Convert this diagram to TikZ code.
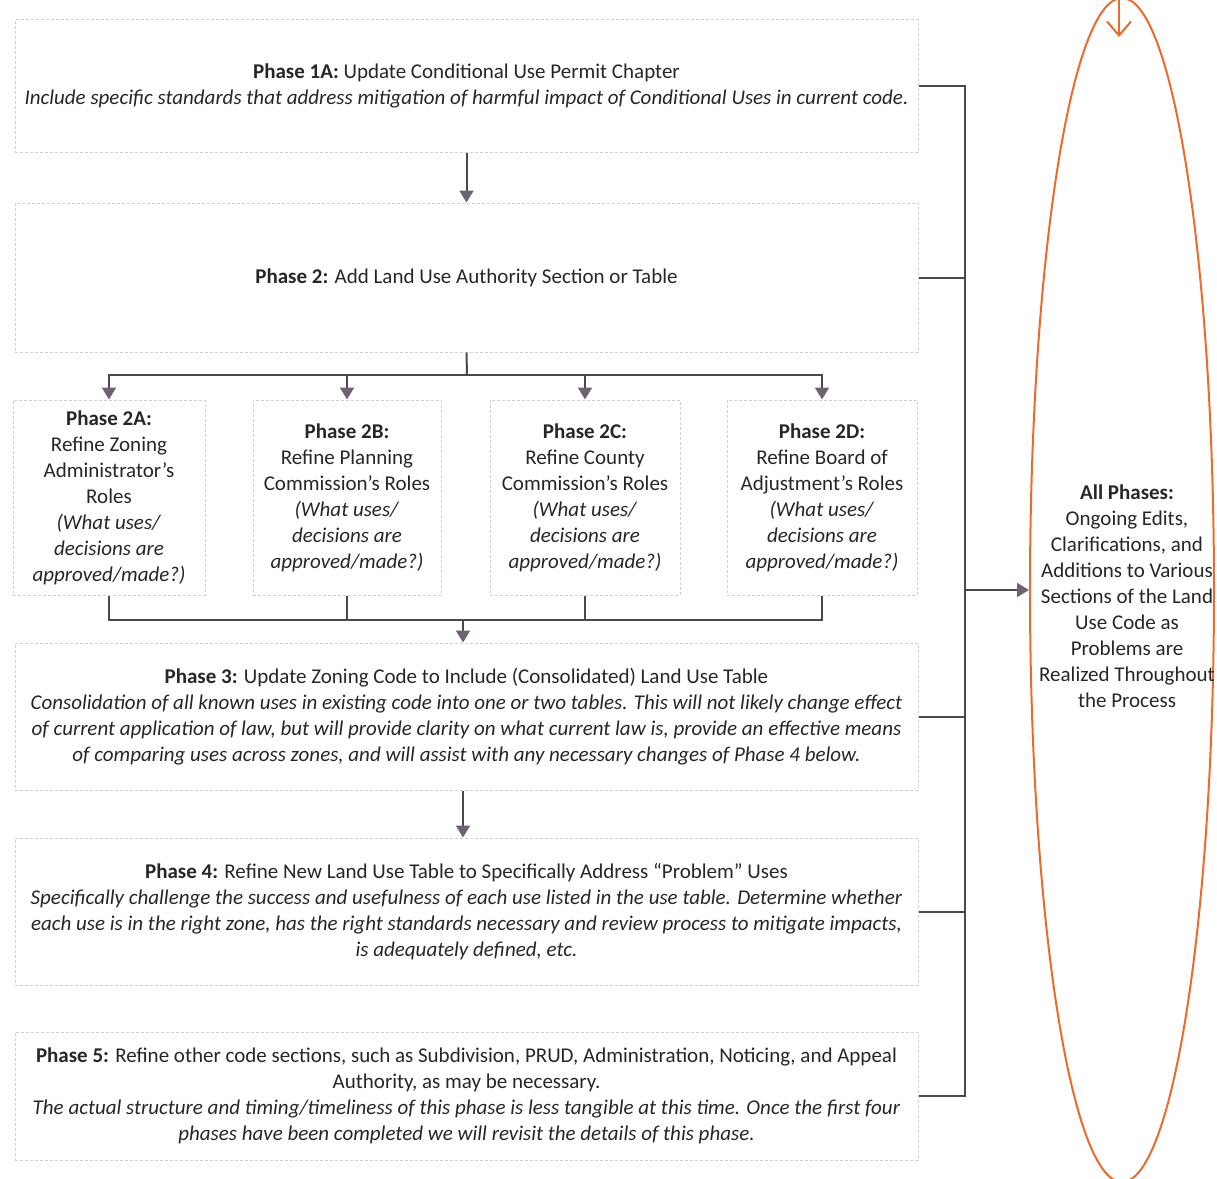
\documentclass[tikz,border=0pt]{standalone}
\usepackage{fontspec}
\setmainfont{Carlito}
\usetikzlibrary{arrows.meta,shapes.geometric}

\definecolor{boxline}{HTML}{D2D2CC}
\definecolor{linkline}{HTML}{4A4A4A}
\definecolor{tipfill}{HTML}{6E6272}
\definecolor{loopline}{HTML}{EE6A2C}
\definecolor{inktext}{HTML}{262626}

\begin{document}
\begin{tikzpicture}[x=0.5pt, y=-0.5pt,
        every node/.style={font=\fontsize{10.5}{13}\selectfont, text=inktext},
        phasebox/.style={draw=boxline, line width=0.5pt, dash pattern=on 1.5pt off 1pt,
            align=center, inner sep=0pt},
        link/.style={draw=linkline, line width=1pt},
        linkarrow/.style={link, -{Triangle[length=6pt, width=7pt, fill=tipfill, color=tipfill]}}]
        \useasboundingbox (0,0) rectangle (1217,1179);
        \clip (0,0) rectangle (1217,1179);
        %\draw [help lines, step=50] (0,0) grid (1217,1179);

        % main column
        \node [phasebox, minimum width=451.5pt, minimum height=66.5pt] (p1a) at (466.5,86)
            {\textbf{Phase 1A:} Update Conditional Use Permit Chapter\\
            \textit{Include specific standards that address mitigation of harmful impact of Conditional Uses in current code.}};
        \node [phasebox, minimum width=451.5pt, minimum height=74.5pt] (p2) at (466.5,277.5)
            {\textbf{Phase 2:} Add Land Use Authority Section or Table};

        \node [phasebox, minimum width=96pt, minimum height=97.5pt] (p2a) at (109,497.5)
            {\textbf{Phase 2A:}\\ Refine Zoning\\ Administrator’s\\ Roles\\
            \textit{(What uses/}\\ \textit{decisions are}\\ \textit{approved/made?)}};
        \node [phasebox, minimum width=94pt, minimum height=97.5pt] (p2b) at (347,497.5)
            {\textbf{Phase 2B:}\\ Refine Planning\\ Commission’s Roles\\
            \textit{(What uses/}\\ \textit{decisions are}\\ \textit{approved/made?)}};
        \node [phasebox, minimum width=95pt, minimum height=97.5pt] (p2c) at (585,497.5)
            {\textbf{Phase 2C:}\\ Refine County\\ Commission’s Roles\\
            \textit{(What uses/}\\ \textit{decisions are}\\ \textit{approved/made?)}};
        \node [phasebox, minimum width=95pt, minimum height=97.5pt] (p2d) at (822,497.5)
            {\textbf{Phase 2D:}\\ Refine Board of\\ Adjustment’s Roles\\
            \textit{(What uses/}\\ \textit{decisions are}\\ \textit{approved/made?)}};

        \node [phasebox, minimum width=451.5pt, minimum height=73.5pt] (p3) at (466.5,716.5)
            {\textbf{Phase 3:} Update Zoning Code to Include (Consolidated) Land Use Table\\
            \textit{Consolidation of all known uses in existing code into one or two tables. This will not likely change effect}\\
            \textit{of current application of law, but will provide clarity on what current law is, provide an effective means}\\
            \textit{of comparing uses across zones, and will assist with any necessary changes of Phase 4 below.}};
        \node [phasebox, minimum width=451.5pt, minimum height=73.5pt] (p4) at (466.5,911.5)
            {\textbf{Phase 4:} Refine New Land Use Table to Specifically Address “Problem” Uses\\
            \textit{Specifically challenge the success and usefulness of each use listed in the use table. Determine whether}\\
            \textit{each use is in the right zone, has the right standards necessary and review process to mitigate impacts,}\\
            \textit{is adequately defined, etc.}};
        \node [phasebox, minimum width=451.5pt, minimum height=64pt] (p5) at (466.5,1096)
            {\textbf{Phase 5:} Refine other code sections, such as Subdivision, PRUD, Administration, Noticing, and Appeal\\
            Authority, as may be necessary.\\
            \textit{The actual structure and timing/timeliness of this phase is less tangible at this time. Once the first four}\\
            \textit{phases have been completed we will revisit the details of this phase.}};

        % the loop on the right
        \node [draw=loopline, line width=1pt, ellipse, minimum width=92pt, minimum height=592pt,
            inner sep=0pt] (loop) at (1122,590) {};
        \node [align=center, inner sep=0pt] (allph) at (1127,596.5)
            {\textbf{All Phases:}\\ Ongoing Edits,\\ Clarifications, and\\ Additions to Various\\
            Sections of the Land\\ Use Code as\\ Problems are\\ Realized Throughout\\ the Process};
        \coordinate (feed) at (1119,-10);
        \coordinate (feedtip) at (1119,37);
        \draw [draw=loopline, line width=1pt, -{Straight Barb[length=7pt, width=12pt]}] (feed) -- (feedtip);

        % arrows down the column
        \draw [linkarrow] (p1a.south) -- (p2.north);
        \coordinate (fork) at (467,375);
        \draw [link] (p2.south) -- (fork);
        \draw [linkarrow] (fork) -| (p2a.north);
        \draw [linkarrow] (fork) -| (p2b.north);
        \draw [linkarrow] (fork) -| (p2c.north);
        \draw [linkarrow] (fork) -| (p2d.north);

        \coordinate (merge) at (463,620);
        \draw [link] (p2a.south) |- (merge);
        \draw [link] (p2b.south) |- (merge);
        \draw [link] (p2c.south) |- (merge);
        \draw [link] (p2d.south) |- (merge);
        \draw [linkarrow] (merge) -- (merge |- p3.north);
        \draw [linkarrow] (p3.south -| merge) -- (p4.north -| merge);

        % rail into the loop
        \coordinate (rail) at (965,0);
        \draw [link] (p1a.east) -- (p1a.east -| rail) -- (p5.east -| rail) -- (p5.east);
        \draw [link] (p2.east) -- (p2.east -| rail);
        \draw [link] (p3.east) -- (p3.east -| rail);
        \draw [link] (p4.east) -- (p4.east -| rail);
        \draw [linkarrow] (loop.west -| rail) -- (loop.west);
    \end{tikzpicture}
\end{document}
